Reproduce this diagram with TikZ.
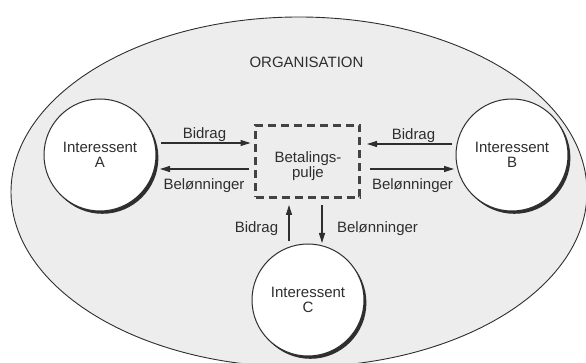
\documentclass[tikz,border=0pt]{standalone}
\usepackage{fontspec}
\setmainfont{Liberation Sans}
\usetikzlibrary{arrows.meta,shadows}

\definecolor{ink}{HTML}{2E2E2E}
\definecolor{orgfill}{HTML}{EDEDED}

\tikzset{
  txt/.style={font=\fontsize{15}{15}\selectfont, text=ink, inner sep=0pt},
  party/.style={circle, draw=ink, line width=1pt, fill=white, minimum size=112pt,
    inner sep=0pt, outer sep=0pt, align=center, font=\fontsize{15}{15}\selectfont, text=ink,
    drop shadow={shadow xshift=2.4pt, shadow yshift=-2.8pt, fill=ink, opacity=1}},
  poolbox/.style={rectangle, draw=ink!90, line width=3pt, dash pattern=on 8pt off 5pt,
    minimum width=104pt, minimum height=72pt, inner sep=0pt, outer sep=0pt},
  flow/.style={draw=ink, line width=1.1pt, -{Triangle[length=10pt,width=6pt]}},
}

\begin{document}
\begin{tikzpicture}[x=1pt, y=-1pt]
  \useasboundingbox (0,0) rectangle (586,363);

  % the organisation
  \path[draw=ink, line width=0.9pt, fill=orgfill]
    (299,192) ellipse [x radius=288pt, y radius=175pt];
  \node[txt, anchor=base] (org) at (306.5,68) {ORGANISATION};

  % payment pool in the middle
  \node[poolbox] (pool) at (307.5,161.5) {};
  \node[txt, align=center] (pooltext) at (308,166.5) {Betalings-\\pulje};

  % the three stakeholders
  \node[party] (A) at (100,155) {Interessent\\A};
  \node[party] (B) at (512,155) {Interessent\\B};
  \node[party] (C) at (308,300) {Interessent\\C};

  % A <-> pool
  \draw[flow] ([xshift=5pt,yshift=12pt]A.east) -- ([xshift=-5pt,yshift=18.5pt]pool.west);
  \draw[flow] ([xshift=-7pt,yshift=-7.5pt]pool.west) -- ([xshift=4pt,yshift=-14pt]A.east);
  \node[txt, anchor=base] (bA) at (204.5,139) {Bidrag};
  \node[txt, anchor=base] (rA) at (204,190) {Belønninger};

  % B <-> pool
  \draw[flow] ([xshift=-4pt,yshift=11pt]B.west) -- ([xshift=7.5pt,yshift=17.5pt]pool.east);
  \draw[flow] ([xshift=10.5pt,yshift=-7.5pt]pool.east) -- ([xshift=-2pt,yshift=-14pt]B.west);
  \node[txt, anchor=base] (bB) at (413.5,139.5) {Bidrag};
  \node[txt, anchor=base] (rB) at (412.5,190) {Belønninger};

  % C <-> pool
  \draw[flow] ([xshift=-19pt,yshift=3pt]C.north) -- ([xshift=-18.5pt,yshift=-7.5pt]pool.south);
  \draw[flow] ([xshift=14.5pt,yshift=-7.5pt]pool.south) -- ([xshift=14pt,yshift=1pt]C.north);
  \node[txt, anchor=base] (bC) at (256.5,233) {Bidrag};
  \node[txt, anchor=base] (rC) at (377.5,233) {Belønninger};
\end{tikzpicture}
\end{document}
